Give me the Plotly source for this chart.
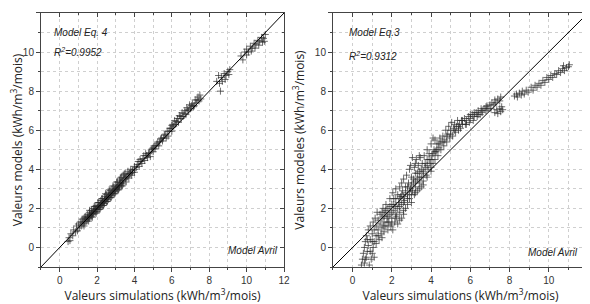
import plotly.graph_objects as go

# ---- data: left panel (Model Eq. 4) ----
left_pts = [
 (0.45,0.3),(0.5,0.5),(0.55,0.35),(0.6,0.7),(0.7,0.6),(0.75,0.9),(0.85,0.8),(0.9,1.1),(0.95,0.85),(1.0,1.2),
 (1.05,1.0),(1.1,1.3),(1.15,1.1),(1.2,1.45),(1.25,1.2),(1.3,1.5),(1.35,1.25),(1.4,1.6),(1.45,1.35),(1.5,1.7),
 (1.5,1.45),(1.55,1.55),(1.6,1.8),(1.6,1.5),(1.65,1.65),(1.7,1.9),(1.7,1.6),(1.75,1.75),(1.8,2.0),(1.8,1.7),
 (1.85,1.85),(1.9,2.1),(1.9,1.8),(1.95,1.95),(2.0,2.15),(2.0,1.85),
 (2.05,2.05),(2.1,2.3),(2.1,1.95),(2.15,2.15),(2.2,2.4),(2.2,2.05),(2.25,2.25),(2.3,2.5),(2.3,2.15),(2.35,2.35),
 (2.4,2.6),(2.4,2.25),(2.45,2.45),(2.5,2.7),(2.5,2.35),(2.55,2.55),(2.6,2.8),(2.6,2.45),(2.65,2.65),(2.7,2.9),
 (2.7,2.55),(2.75,2.75),(2.8,3.0),(2.8,2.65),(2.85,2.85),(2.9,3.1),(2.9,2.75),(2.95,2.95),(3.0,3.2),(3.0,2.85),
 (3.05,3.05),(3.1,3.35),(3.1,2.95),(3.15,3.15),(3.2,3.45),(3.2,3.05),(3.25,3.3),(3.3,3.6),(3.3,3.15),(3.35,3.4),
 (3.4,3.7),(3.4,3.25),(3.5,3.5),(3.5,3.8),(3.55,3.35),(3.6,3.65),(3.65,3.9),(3.7,3.55),(3.75,3.8),(3.8,4.0),
 (3.85,3.7),(3.9,3.95),(4.0,4.15),(4.0,3.85),
 (4.1,4.1),(4.2,4.4),(4.25,4.15),(4.3,4.5),(4.4,4.3),(4.5,4.7),(4.55,4.45),(4.6,4.8),(4.7,4.6),(4.8,4.85),
 (4.85,4.65),(4.9,5.0),(5.0,4.9),(5.0,5.1),
 (5.1,5.05),(5.2,5.3),(5.3,5.2),(5.4,5.55),(5.5,5.45),(5.6,5.75),(5.7,5.6),(5.75,5.95),(5.8,5.7),(5.9,6.1),
 (6.0,5.95),(6.0,6.25),
 (6.1,6.2),(6.15,6.5),(6.2,6.3),(6.3,6.6),(6.35,6.4),(6.4,6.75),(6.5,6.6),(6.55,6.9),(6.6,6.7),(6.7,7.0),
 (6.75,6.8),(6.8,7.15),(6.9,7.0),(6.95,7.3),(7.0,7.1),(7.1,7.35),(7.2,7.25),(7.25,7.55),(7.3,7.4),(7.4,7.7),
 (7.45,7.5),(7.5,7.8),(7.55,7.6),
 (8.4,8.5),(8.5,8.8),(8.55,8.4),(8.6,8.0),(8.65,8.7),(8.7,8.5),(8.8,8.9),(8.85,8.6),(8.9,8.8),(9.0,9.0),
 (9.05,8.85),(9.1,9.1),
 (9.7,9.8),(9.8,9.6),(9.9,10.0),(10.0,9.85),(10.0,10.15),(10.1,10.0),(10.2,10.3),(10.25,10.05),(10.3,10.2),
 (10.4,10.45),(10.45,10.2),(10.5,10.4),(10.6,10.6),(10.65,10.35),(10.7,10.55),(10.8,10.75),(10.85,10.5),
 (10.9,10.7),(11.0,10.9),(10.95,10.55),
 (1.2,1.3),(1.3,1.35),(1.4,1.45),(1.5,1.55),(1.6,1.65),(1.7,1.75),(1.8,1.85),(1.9,1.95),(2.0,2.0),(2.1,2.1),
 (2.2,2.2),(2.3,2.3),(2.4,2.4),(2.5,2.5),(2.6,2.6),(2.7,2.7),(2.8,2.8),(2.9,2.9),(3.0,3.0),(3.1,3.1),
 (3.2,3.2),(3.3,3.3),(3.4,3.45),(3.5,3.55),(3.6,3.6),(3.7,3.75),(3.8,3.8),(3.9,3.85),(4.0,4.0),(4.15,4.25),
 (4.35,4.4),(4.45,4.55),(4.65,4.7),(4.75,4.8),(4.95,5.05),(5.05,5.2),(5.15,5.2),(5.25,5.4),(5.35,5.4),
 (5.45,5.6),(5.55,5.6),(5.65,5.8),(5.85,5.95),(5.95,6.1),(6.05,6.3),(6.25,6.45),(6.45,6.7),(6.65,6.85),
 (6.85,7.05),(7.05,7.25),(7.15,7.2),(7.35,7.55),
 (1.3,1.1),(1.55,1.35),(1.75,1.55),(1.95,1.75),(2.15,1.95),(2.35,2.15),(2.55,2.35),(2.75,2.55),(2.95,2.75),
 (3.15,2.95),(3.35,3.15),(1.35,1.55),(1.6,1.9),(1.85,2.1),(2.05,2.3),(2.25,2.5),(2.45,2.75),(2.65,2.95),
 (2.85,3.15),(3.05,3.35),(3.25,3.55),(3.45,3.75),
]

# ---- data: right panel (Model Eq.3) ----
right_pts = [
 (0.45,-0.9),(0.5,-0.6),(0.55,-0.3),(0.6,0.0),(0.6,-0.8),(0.65,0.3),(0.7,-0.5),(0.7,0.6),(0.75,-0.2),(0.8,0.9),
 (0.8,0.1),(0.85,-0.9),(0.9,0.4),(0.9,1.1),(0.95,-0.6),(1.0,0.7),(1.0,-0.3),(1.05,1.3),(1.05,0.0),(1.1,0.9),
 (1.1,0.3),(1.15,1.5),(1.2,0.6),(1.2,1.1),(1.25,1.8),(1.3,0.9),(1.3,1.4),(1.35,0.4),(1.4,1.2),(1.4,1.7),
 (1.45,0.7),(1.5,1.0),(1.5,1.5),(1.55,2.0),(1.6,0.8),(1.6,1.3),(1.65,1.8),(1.7,1.1),(1.7,2.2),(1.75,1.5),
 (1.8,0.9),(1.8,2.0),(1.85,1.3),(1.9,2.5),(1.9,1.7),(1.95,1.1),(2.0,2.2),(2.0,1.5),(2.05,2.8),(2.05,0.9),
 (2.1,1.9),(2.1,2.5),(2.15,1.3),(2.2,3.0),(2.2,2.1),(2.25,1.6),(2.3,2.7),(2.3,1.2),(2.35,2.3),(2.4,3.1),
 (2.4,1.8),(2.45,2.6),(2.5,1.5),(2.5,3.3),(2.5,2.2),
 (2.55,2.9),(2.6,1.9),(2.6,3.5),(2.65,2.4),(2.7,3.1),(2.7,2.0),(2.75,3.7),(2.8,2.7),(2.8,2.2),(2.85,3.3),
 (2.9,4.0),(2.9,2.5),(2.95,3.0),(3.0,3.6),(3.0,2.3),(3.05,4.6),(3.05,2.9),(3.1,3.3),(3.15,4.1),(3.15,2.7),
 (3.2,3.8),(3.2,3.1),(3.25,4.5),(3.3,3.5),(3.3,2.9),(3.35,4.2),(3.4,3.3),(3.4,3.9),(3.45,4.6),(3.5,3.6),
 (3.5,3.1),(3.55,4.3),
 (3.6,3.9),(3.6,3.4),(3.65,4.7),(3.7,4.1),(3.75,3.7),(3.8,4.5),(3.8,5.0),(3.85,4.0),(3.9,4.8),(3.95,4.3),
 (4.0,5.3),(4.0,4.1),(4.05,4.7),(4.1,5.6),(4.1,4.3),(4.15,5.0),(4.2,5.5),(4.2,4.5),(4.25,4.9),(4.3,5.3),
 (4.35,4.7),(4.4,5.1),(4.45,5.6),(4.5,5.0),(4.5,5.4),
 (4.6,5.7),(4.65,5.2),(4.7,5.5),(4.75,6.0),(4.8,5.4),(4.85,5.8),(4.9,6.2),(4.95,5.6),(5.0,6.0),(5.05,6.4),
 (5.1,5.7),(5.15,6.1),(5.2,6.3),(5.25,5.9),(5.3,6.2),(5.35,6.5),(5.4,6.0),(5.45,6.3),(5.5,6.1),(5.55,6.5),
 (5.6,6.3),(5.7,6.6),(5.75,6.3),(5.8,6.5),(5.9,6.7),(5.95,6.4),(6.0,6.6),(6.1,6.8),(6.15,6.5),(6.2,6.7),
 (6.3,6.9),(6.35,6.7),(6.4,7.0),(6.5,6.8),(6.55,7.1),(6.6,6.9),(6.7,7.1),(6.8,7.0),(6.85,7.25),(6.9,7.1),
 (7.0,7.3),(7.05,7.1),(7.1,7.4),(7.2,7.3),(7.25,7.55),(7.3,7.4),(7.4,7.6),(7.5,7.5),(7.55,7.7),
 (7.25,6.9),(7.35,7.05),(7.4,6.85),(7.5,7.1),(7.55,6.95),(7.6,7.2),(7.65,7.05),
 (8.25,7.75),(8.35,7.85),(8.4,7.7),(8.5,7.9),(8.6,7.8),(8.65,8.0),(8.75,7.85),(8.85,8.05),(8.95,7.95),
 (9.1,8.2),(9.2,8.05),(9.3,8.3),(9.4,8.2),(9.5,8.4),(9.6,8.3),(9.7,8.55),(9.8,8.45),(9.9,8.7),(10.0,8.6),
 (10.1,8.8),(10.2,8.7),(10.3,8.9),(10.4,8.85),(10.5,9.05),(10.6,8.95),(10.7,9.15),(10.75,9.3),(10.8,9.05),
 (10.9,9.2),(11.0,9.25),(11.05,9.35),
 (1.5,1.8),(1.6,1.6),(1.7,1.9),(1.8,1.6),(1.9,2.1),(2.0,1.8),(2.1,2.2),(2.2,2.5),(2.3,2.0),(2.4,2.5),
 (2.5,2.7),(2.6,2.6),(2.7,2.8),(2.8,3.1),(2.9,2.9),(3.0,3.2),(3.1,3.5),(3.2,3.4),(3.3,3.8),(3.4,3.6),
 (3.5,4.0),(3.6,3.8),(3.7,4.3),(3.8,4.2),(3.9,4.5),(4.0,4.5),(4.1,4.8),(4.2,4.9),(4.3,5.0),(4.4,5.3),
 (4.6,5.4),(4.8,5.7),(5.0,5.8),(5.2,6.0),(5.4,6.2),(5.6,6.5),(5.8,6.3),(6.0,6.8),(6.2,6.9),(6.4,6.8),
 (6.6,7.0),(6.8,7.2),(2.2,1.7),(2.4,2.1),(2.6,2.3),(2.8,2.5),(3.0,2.7),(3.2,2.8),(3.4,3.0),(3.6,3.2),
 (3.8,3.6),(4.0,3.9),(1.6,1.1),(1.8,1.3),(2.0,1.2),(2.2,1.5),(2.4,1.4),(2.6,1.7),(1.3,0.6),(1.5,0.5),
 (1.2,0.2),(0.9,-0.2),(1.0,0.3),(1.1,-0.5),(0.75,0.4),(0.65,-0.6),(3.4,4.7),(3.2,4.3),(2.95,4.2),
]

left_x = [p[0] for p in left_pts]
left_y = [p[1] for p in left_pts]
right_x = [p[0] for p in right_pts]
right_y = [p[1] for p in right_pts]

diag = [-1, 12]
axis_range = [-1, 12]
tick_vals = [0, 2, 4, 6, 8, 10, 12]
tick_text = ["0", "2", "4", "6", "8", "10", "12"]
minor_vals = [-1, 1, 3, 5, 7, 9, 11]

x_title = "Valeurs simulations (kWh/m<sup>3</sup>/mois)"
y_title_left = "Valeurs models (kWh/m<sup>3</sup>/mois)"
y_title_right = "Valeurs modeles (kWh/m<sup>3</sup>/mois)"

fig = go.Figure()

marker = dict(symbol="cross-thin", size=5,
              line=dict(width=1, color="rgba(40,40,40,0.68)"),
              color="rgba(40,40,40,0.68)")

fig.add_trace(go.Scatter(x=left_x, y=left_y, mode="markers", marker=marker,
                         xaxis="x", yaxis="y", showlegend=False))
fig.add_trace(go.Scatter(x=diag, y=diag, mode="lines", line=dict(color="black", width=1),
                         xaxis="x", yaxis="y", showlegend=False))
fig.add_trace(go.Scatter(x=right_x, y=right_y, mode="markers", marker=marker,
                         xaxis="x2", yaxis="y2", showlegend=False))
fig.add_trace(go.Scatter(x=diag, y=diag, mode="lines", line=dict(color="black", width=1),
                         xaxis="x2", yaxis="y2", showlegend=False))
fig.add_trace(go.Scatter(x=[None], y=[None], xaxis="x3", yaxis="y3", showlegend=False))
fig.add_trace(go.Scatter(x=[None], y=[None], xaxis="x4", yaxis="y4", showlegend=False))

tickfont = dict(family="Liberation Sans, Arial", size=10, color="#333")
titlefont = dict(family="Open Sans, Noto Sans", size=12, color="#222")

def main_axis(domain, anchor, title, standoff):
    return dict(domain=domain, anchor=anchor, range=axis_range, tickvals=tick_vals, ticktext=tick_text,
                ticks="outside", ticklen=4, tickcolor="#444", tickwidth=1, automargin=False,
                showline=True, linecolor="#444", linewidth=1,
                showgrid=True, gridcolor="#cfcfcf", griddash="dot", gridwidth=1,
                minor=dict(tickvals=minor_vals, ticks="outside", ticklen=2, tickcolor="#444",
                           showgrid=True, gridcolor="#cfcfcf", griddash="dot", gridwidth=1),
                zeroline=False, tickfont=tickfont,
                title=dict(text=title, font=titlefont, standoff=standoff))

def mirror_axis(overlay, anchor, side):
    return dict(overlaying=overlay, anchor=anchor, side=side, range=axis_range, automargin=False,
                tickvals=tick_vals, ticks="inside", ticklen=4, tickcolor="#444",
                showticklabels=False, showline=True, linecolor="#444", linewidth=1,
                showgrid=False, zeroline=False,
                minor=dict(tickvals=minor_vals, ticks="inside", ticklen=2, tickcolor="#444"))

# page body has an 8px default margin, so domains are shifted by 8px up/left
ydom = [0.148, 0.9836]
fig.update_layout(
    width=590, height=304,
    margin=dict(l=0, r=0, t=0, b=0, autoexpand=False),
    paper_bgcolor="white", plot_bgcolor="white",
    xaxis=main_axis([0.0559, 0.4678], "y", x_title, 6),
    yaxis=main_axis(ydom, "x", y_title_left, 7),
    xaxis2=main_axis([0.5508, 0.9831], "y2", x_title, 6),
    yaxis2=main_axis(ydom, "x2", y_title_right, 7),
    xaxis3=mirror_axis("x", "y", "top"),
    yaxis3=mirror_axis("y", "x", "right"),
    xaxis4=mirror_axis("x2", "y2", "top"),
    yaxis4=mirror_axis("y2", "x2", "right"),
)

annfont = dict(family="Liberation Sans, Arial", size=10, color="#222")
anns = [
    ("x", "y", -0.4, 11.0, "<i>Model Eq. 4</i>", "left"),
    ("x", "y", -0.4, 10.0, "<i>R<sup>2</sup>=0.9952</i>", "left"),
    ("x", "y", 11.8, -0.15, "<i>Model Avril</i>", "right"),
    ("x2", "y2", -0.3, 11.0, "<i>Model Eq.3</i>", "left"),
    ("x2", "y2", -0.3, 9.8, "<i>R<sup>2</sup>=0.9312</i>", "left"),
    ("x2", "y2", 11.6, -0.25, "<i>Model Avril</i>", "right"),
]
for xr, yr, ax, ay, txt, anc in anns:
    fig.add_annotation(xref=xr, yref=yr, x=ax, y=ay, text=txt, showarrow=False,
                       xanchor=anc, yanchor="middle", font=annfont)

fig.write_html("out.html")
